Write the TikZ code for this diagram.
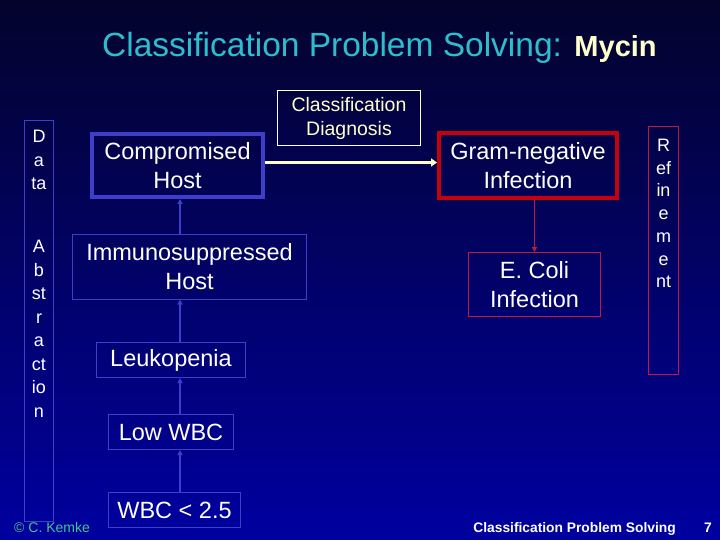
\documentclass[tikz,border=0pt]{standalone}
\usepackage{fontspec}
\setmainfont{Liberation Sans}
\usetikzlibrary{arrows.meta}
\definecolor{bgtop}{RGB}{3,3,44}
\definecolor{bgbot}{RGB}{0,0,160}
\definecolor{bluebd}{RGB}{62,62,200}
\definecolor{redthick}{RGB}{200,0,12}
\definecolor{redthin}{RGB}{185,30,60}
\definecolor{cream}{RGB}{255,255,204}
\definecolor{titlecyan}{RGB}{45,190,205}
\definecolor{kemke}{RGB}{70,195,140}
\tikzset{
  nodetext/.style={text=white, align=center, inner sep=0pt, font=\fontsize{23.5}{29}\selectfont},
  thinblue/.style={nodetext, draw=bluebd, line width=1pt},
  thickbluebox/.style={nodetext, draw=bluebd, line width=4pt},
  thinred/.style={nodetext, draw=redthin, line width=1pt},
  thickred/.style={nodetext, draw=redthick, line width=4pt},
  sidetext/.style={text=white, align=center, inner sep=0pt, anchor=north, font=\fontsize{18}{23.5}\selectfont},
  bluearrow/.style={draw=bluebd, line width=2pt, -{Triangle[length=5pt,width=5pt]}},
  redarrow/.style={draw=redthin, line width=1.5pt, -{Triangle[length=5pt,width=5pt]}},
  creamarrow/.style={draw=cream, line width=3.5pt, -{Triangle[length=6pt,width=8pt]}}
}
\begin{document}
\begin{tikzpicture}[x=1pt,y=-1pt]
\shade[top color=bgtop, bottom color=bgbot] (0,0) rectangle (720,540);
\useasboundingbox (0,0) rectangle (720,540);

% title
\node[anchor=base west, inner sep=0pt] (title) at (102,57)
  {{\color{titlecyan}\fontsize{33.5}{40}\selectfont Classification Problem Solving: }{\color{cream}\fontsize{29}{35}\selectfont\bfseries Mycin}};

% side boxes
\node[draw=bluebd, line width=1pt, minimum width=29pt, minimum height=400pt, inner sep=0pt] (data) at (39,321) {};
\node[sidetext] (datatext) at (39,130) {D\\a\\ta\\[39.5pt]A\\b\\st\\r\\a\\ct\\io\\n};
\node[draw=redthin, line width=1pt, minimum width=30pt, minimum height=248pt, inner sep=0pt] (refine) at (663.5,250.5) {};
\node[sidetext, font=\fontsize{18}{22.7}\selectfont] (refinetext) at (663.5,139) {R\\ef\\in\\e\\m\\e\\nt};

% main nodes
\node[thickbluebox, minimum width=171pt, minimum height=63pt] (comp) at (177.5,165.5) {Compromised\\Host};
\node[nodetext, draw=white, line width=1pt, text=cream, minimum width=143pt, minimum height=55pt, font=\fontsize{19.5}{24}\selectfont] (diag) at (349,118) {Classification\\Diagnosis};
\node[thickred, minimum width=178pt, minimum height=65pt] (gram) at (528,165.5) {Gram-negative\\Infection};
\node[thinred, minimum width=132pt, minimum height=64pt] (ecoli) at (534.5,284.5) {E. Coli\\Infection};
\node[thinblue, minimum width=234pt, minimum height=65pt] (immuno) at (189.5,266.5) {Immunosuppressed\\Host};
\node[thinblue, minimum width=149pt, minimum height=35pt] (leuk) at (171,360) {Leukopenia};
\node[thinblue, minimum width=125pt, minimum height=35pt] (low) at (171,432) {Low WBC};
\node[thinblue, minimum width=132pt, minimum height=35pt] (wbc) at (174.5,510) {WBC < 2.5};

% connectors
\coordinate (ax) at (180,0);
\draw[creamarrow] ([yshift=3pt]comp.east) -- ([yshift=3pt]gram.west);
\draw[redarrow] (gram.south -| ecoli.north) -- (ecoli.north);
\draw[bluearrow] (immuno.north -| ax) -- (comp.south -| ax);
\draw[bluearrow] (leuk.north -| ax) -- (immuno.south -| ax);
\draw[bluearrow] (low.north -| ax) -- (leuk.south -| ax);
\draw[bluearrow] (wbc.north -| ax) -- (low.south -| ax);

% footer
\node[anchor=base west, inner sep=0pt, text=kemke, font=\fontsize{14}{16}\selectfont] (copy) at (14,532) {© C. Kemke};
\node[anchor=base east, inner sep=0pt, text=white, font=\fontsize{13.8}{16}\selectfont\bfseries] (foot) at (676,532) {Classification Problem Solving};
\node[anchor=base west, inner sep=0pt, text=white, font=\fontsize{13.8}{16}\selectfont\bfseries] (page) at (704,532) {7};
\end{tikzpicture}
\end{document}
